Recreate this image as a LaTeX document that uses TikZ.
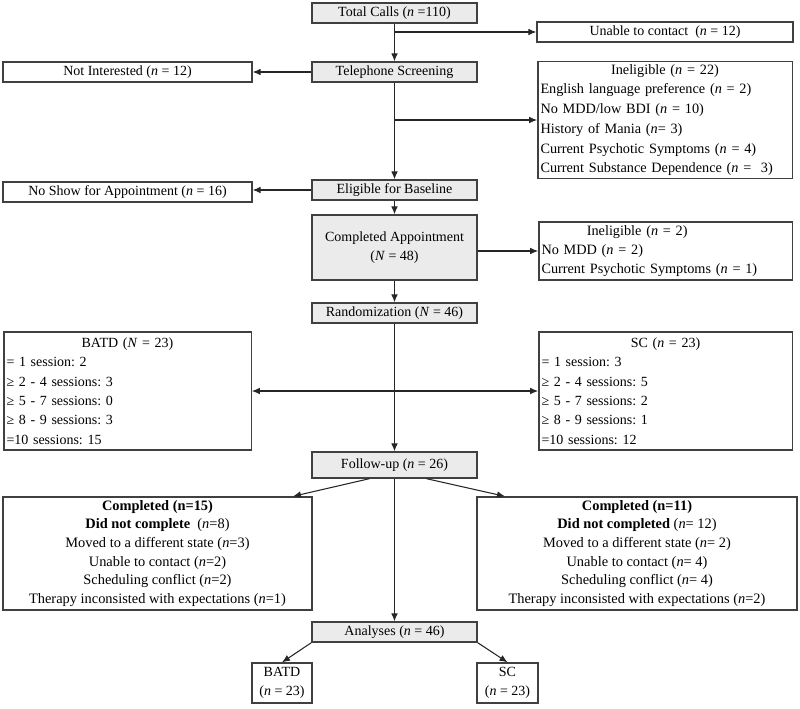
\documentclass[tikz,border=0pt]{standalone}
\usepackage{fontspec}
\setmainfont{Liberation Serif}
\usetikzlibrary{arrows.meta}
\frenchspacing

\newcommand{\nn}{\textit{n}}
\newcommand{\NN}{\textit{N}}
\newcommand{\px}{0.75pt}

\tikzset{
	box/.style={draw=black!75, line width=1pt, inner sep=2pt,
		font=\fontsize{10.5}{14.5}\selectfont},
	greybox/.style={box, fill=black!8},
	listbox/.style={box, align=left},
	arr/.style={-{Latex[length=6pt,width=5pt]}, line width=0.8pt, draw=black!85},
}

\begin{document}
\begin{tikzpicture}[x=0.75pt, y=-0.75pt]

	\useasboundingbox (0,0) rectangle (800,708);

	% Main column
	\node[greybox, minimum width=165*\px, minimum height=20*\px] (total) at (394.5,13) {Total Calls (\nn{} =110)};
	\node[greybox, minimum width=165*\px, minimum height=20*\px] (screen) at (394.5,72) {Telephone Screening};
	\node[greybox, minimum width=165*\px, minimum height=20*\px] (eligible) at (394.5,190) {Eligible for Baseline};
	\node[greybox, minimum width=165*\px, minimum height=65*\px, align=center] (completed) at (394.5,247.5) {Completed Appointment\\(\NN{} = 48)};
	\node[greybox, minimum width=165*\px, minimum height=20*\px] (random) at (394.5,313) {Randomization (\NN{} = 46)};
	\node[greybox, minimum width=165*\px, minimum height=26*\px] (followup) at (394.5,465) {Follow-up (\nn{} = 26)};
	\node[greybox, minimum width=165*\px, minimum height=20*\px] (analyses) at (394.5,632) {Analyses (\nn{} = 46)};

	% Exclusions
	\node[box, minimum width=256*\px, minimum height=20*\px] (unable) at (665,32) {Unable to contact~ (\nn{} = 12)};
	\node[box, minimum width=249*\px, minimum height=20*\px] (notint) at (127.5,72) {Not Interested (\nn{} = 12)};
	\node[listbox, text width=249*\px, minimum height=116*\px, font=\fontsize{10.7}{14.8}\selectfont] (inelig) at (665,120)
		{\makebox[\linewidth]{Ineligible (\nn{} = 22)}\\
		English language preference (\nn{} = 2)\\
		No MDD/low BDI (\nn{} = 10)\\
		History of Mania (\nn{}= 3)\\
		Current Psychotic Symptoms (\nn{} = 4)\\
		Current Substance Dependence (\nn{} =~ 3)};
	\node[box, minimum width=249*\px, minimum height=20*\px] (noshow) at (127.5,192) {No Show for Appointment (\nn{} = 16)};
	\node[listbox, text width=248*\px, minimum height=58*\px, font=\fontsize{10.7}{14.5}\selectfont] (inelig2) at (665.5,251)
		{\hspace*{34pt}Ineligible (\nn{} = 2)\\
		No MDD (\nn{} = 2)\\
		Current Psychotic Symptoms (\nn{} = 1)};

	% Arms
	\node[listbox, text width=242*\px, minimum height=118*\px] (batd) at (127.5,391)
		{\makebox[\linewidth]{BATD (\NN{} = 23)}\\
		= 1 session: 2\\
		≥ 2 - 4 sessions: 3\\
		≥ 5 - 7 sessions: 0\\
		≥ 8 - 9 sessions: 3\\
		=10 sessions: 15};
	\node[listbox, text width=248*\px, minimum height=118*\px] (sc) at (665.5,391)
		{\makebox[\linewidth]{SC (\nn{} = 23)}\\
		= 1 session: 3\\
		≥ 2 - 4 sessions: 5\\
		≥ 5 - 7 sessions: 2\\
		≥ 8 - 9 sessions: 1\\
		=10 sessions: 12};

	% Follow-up results
	\node[box, align=center, minimum width=309*\px, minimum height=113*\px, font=\fontsize{10.8}{14}\selectfont] (compl) at (157.5,553.5)
		{\textbf{Completed (n=15)}\\
		\textbf{Did not complete}~ (\nn{}=8)\\
		Moved to a different state (\nn{}=3)\\
		Unable to contact (\nn{}=2)\\
		Scheduling conflict (\nn{}=2)\\
		Therapy inconsisted with expectations (\nn{}=1)};
	\node[box, align=center, minimum width=320*\px, minimum height=113*\px, font=\fontsize{10.8}{14}\selectfont] (compr) at (637,553.5)
		{\textbf{Completed (n=11)}\\
		\textbf{Did not completed} (\nn{}= 12)\\
		Moved to a different state (\nn{}= 2)\\
		Unable to contact (\nn{}= 4)\\
		Scheduling conflict (\nn{}= 4)\\
		Therapy inconsisted with expectations (\nn{}=2)};

	% Analysed
	\node[box, align=center, minimum width=60*\px, minimum height=40*\px] (batdn) at (282,683) {BATD\\(\nn{} = 23)};
	\node[box, align=center, minimum width=61*\px, minimum height=40*\px] (scn) at (507.5,683) {SC\\(\nn{} = 23)};

	% Arrows down the column
	\draw[arr] (total) -- (screen);
	\draw[arr] (screen) -- (eligible);
	\draw[arr] (eligible) -- (completed);
	\draw[arr] (completed) -- (random);
	\draw[arr] (random) -- (followup);
	\draw[arr] (followup) -- (analyses);

	% Arrows to the sides
	\draw[arr] (total.south |- unable.west) -- (unable.west);
	\draw[arr] (screen.south |- inelig.west) -- (inelig.west);
	\draw[arr] (screen.west) -- (notint.east);
	\draw[arr] (eligible.west) -- (noshow.east |- eligible.west);
	\draw[arr] (completed.east |- inelig2.west) -- (inelig2.west);
	\draw[arr] (random.south |- batd.east) -- (batd.east);
	\draw[arr] (random.south |- sc.west) -- (sc.west);
	\draw[arr] ([xshift=-18.75pt]followup.south) -- ([xshift=101.6pt]compl.north);
	\draw[arr] ([xshift=24pt]followup.south) -- ([xshift=-99pt]compr.north);
	\draw[arr] (analyses.south west) -- (batdn.north);
	\draw[arr] (analyses.south east) -- (scn.north);

\end{tikzpicture}
\end{document}
